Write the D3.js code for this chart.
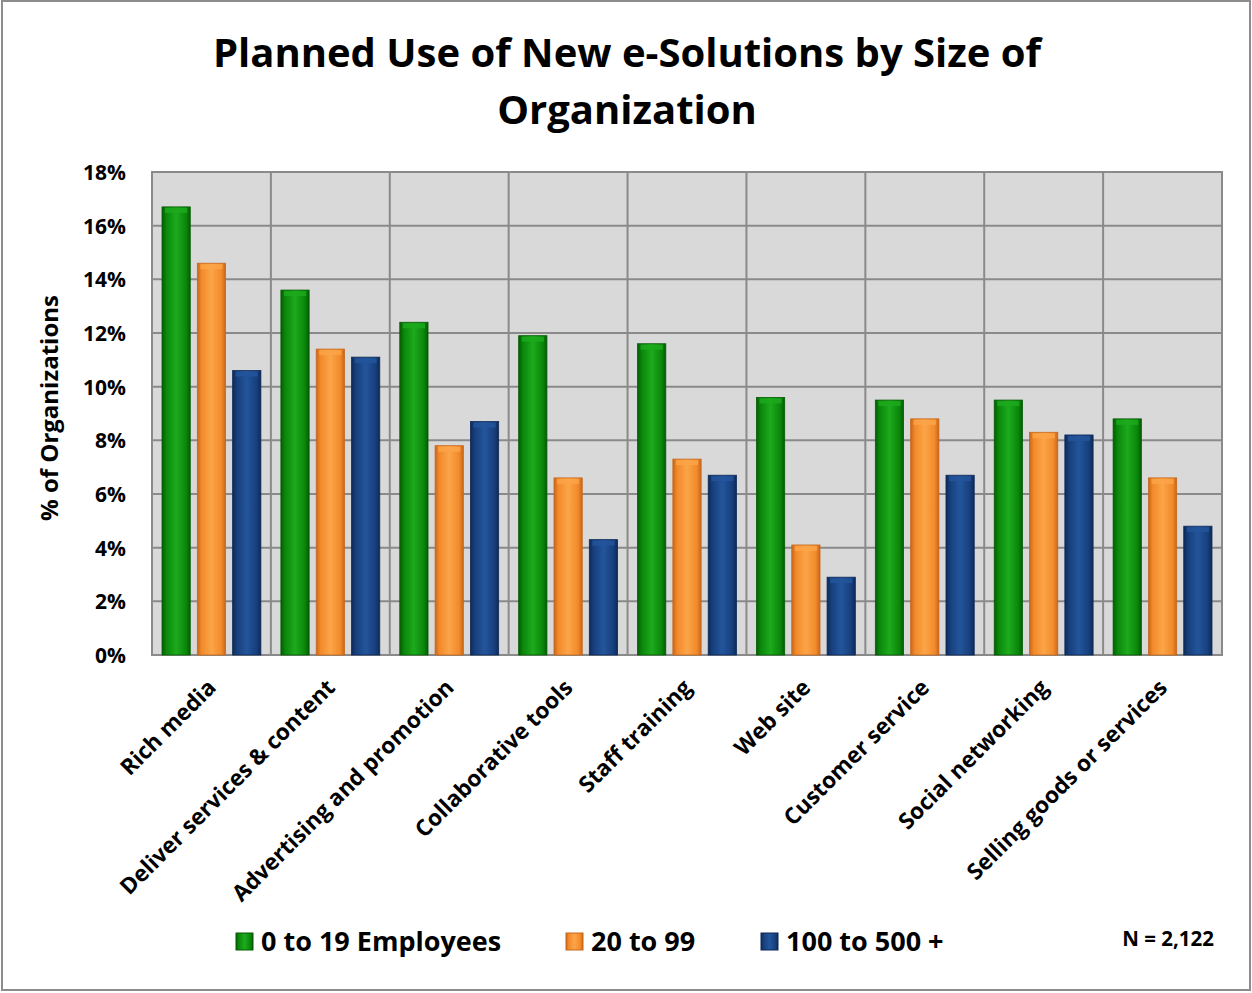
<!DOCTYPE html>
<html>
<head>
<meta charset="utf-8">
<script src="https://cdn.jsdelivr.net/npm/d3@7"></script>
<style>
  body { margin: 0; background: #fff; }
  text { font-family: "Open Sans", Lato, sans-serif; font-weight: bold; fill: #000; }
</style>
</head>
<body>
<section></section>
<script>
const WIDTH = 1252;
const HEIGHT = 993;

// Data
const categories = ["Rich media", "Deliver services & content", "Advertising and promotion",
    "Collaborative tools", "Staff training", "Web site", "Customer service",
    "Social networking", "Selling goods or services"];
const seriesNames = ["0 to 19 Employees", "20 to 99", "100 to 500 +"];
const small = [16.7, 13.6, 12.4, 11.9, 11.6, 9.6, 9.5, 9.5, 8.8];
const medium = [14.6, 11.4, 7.8, 6.6, 7.3, 4.1, 8.8, 8.3, 6.6];
const large = [10.6, 11.1, 8.7, 4.3, 6.7, 2.9, 6.7, 8.2, 4.8];
const yTicks = [0, 2, 4, 6, 8, 10, 12, 14, 16, 18];

const colors = [
    {base: "#0a870a", light: "#1daa1d", dark: "#055c05"},
    {base: "#f28a2a", light: "#fba548", dark: "#c8661a"},
    {base: "#173f7c", light: "#23559c", dark: "#0d2a57"}
];

// plot area
const PL = 152, PR = 1222, PT = 172, PB = 655;

const svg = d3.select("section")
    .append("svg")
    .attr("width", WIDTH)
    .attr("height", HEIGHT);

// outer border
svg.append("rect")
    .attr("x", 2).attr("y", 1)
    .attr("width", 1248).attr("height", 989)
    .attr("fill", "#fff")
    .attr("stroke", "#8c8c8c")
    .attr("stroke-width", 2);

// gradients for the bevelled bars
const defs = svg.append("defs");
colors.forEach((c, i) => {
    const g = defs.append("linearGradient")
        .attr("id", "grad" + i)
        .attr("x1", "0%").attr("x2", "100%").attr("y1", "0%").attr("y2", "0%");
    g.append("stop").attr("offset", "0%").attr("stop-color", c.dark);
    g.append("stop").attr("offset", "15%").attr("stop-color", c.base);
    g.append("stop").attr("offset", "50%").attr("stop-color", c.light);
    g.append("stop").attr("offset", "85%").attr("stop-color", c.base);
    g.append("stop").attr("offset", "100%").attr("stop-color", c.dark);
});

// title
svg.append("text")
    .attr("x", 627).attr("y", 67)
    .attr("text-anchor", "middle")
    .attr("font-size", 40)
    .text("Planned Use of New e-Solutions by Size of");
svg.append("text")
    .attr("x", 627).attr("y", 124)
    .attr("text-anchor", "middle")
    .attr("font-size", 40)
    .text("Organization");

const x0 = d3.scaleBand()
    .domain(categories)
    .range([PL, PR])
    .paddingInner(0)
    .paddingOuter(0);

const x1 = d3.scaleBand()
    .domain(d3.range(3))
    .range([10, x0.bandwidth() - 10])
    .paddingInner(0.2);

const yScale = d3.scaleLinear()
    .domain([0, 18])
    .range([PB, PT]);

// plot background
svg.append("rect")
    .attr("x", PL).attr("y", PT)
    .attr("width", PR - PL).attr("height", PB - PT)
    .attr("fill", "#d9d9d9")
    .attr("stroke", "#8a8a8a")
    .attr("stroke-width", 2);

// horizontal gridlines
svg.append("g")
    .selectAll("line")
    .data(yTicks)
    .enter()
    .append("line")
    .attr("x1", PL).attr("x2", PR)
    .attr("y1", d => yScale(d)).attr("y2", d => yScale(d))
    .attr("stroke", "#8a8a8a")
    .attr("stroke-width", 2);

// vertical gridlines between categories
svg.append("g")
    .selectAll("line")
    .data(categories.slice(1))
    .enter()
    .append("line")
    .attr("x1", d => x0(d)).attr("x2", d => x0(d))
    .attr("y1", PT).attr("y2", PB)
    .attr("stroke", "#8a8a8a")
    .attr("stroke-width", 2);

// y axis
const yAxis = d3.axisLeft(yScale)
    .tickValues(yTicks)
    .tickFormat(d => d + "%")
    .tickSize(0)
    .tickPadding(26);

svg.append("g")
    .attr("id", "y-axis")
    .attr("transform", "translate(" + PL + ",0)")
    .call(yAxis)
    .call(g => g.select(".domain").remove())
    .selectAll("text")
    .attr("font-size", 21)
    .attr("dy", "0.35em")
    .style("font-family", "'Open Sans', sans-serif")
    .style("font-weight", "bold")
    .attr("fill", "#000");

svg.append("text")
    .attr("transform", "translate(58,408) rotate(-90)")
    .attr("text-anchor", "middle")
    .attr("font-size", 24)
    .text("% of Organizations");

// bars
const series = [small, medium, large];
const rows = categories.map((c, i) => ({cat: c, vals: series.map(s => s[i])}));

const groups = svg.append("g")
    .selectAll("g")
    .data(rows)
    .enter()
    .append("g")
    .attr("transform", d => "translate(" + x0(d.cat) + ",0)");

const bars = groups.selectAll("g.bar")
    .data(d => d.vals.map((v, k) => ({v, k})))
    .enter()
    .append("g")
    .attr("class", "bar");

bars.append("rect")
    .attr("x", d => x1(d.k))
    .attr("y", d => yScale(d.v))
    .attr("width", x1.bandwidth())
    .attr("height", d => PB - yScale(d.v))
    .attr("fill", d => "url(#grad" + d.k + ")")
    .attr("stroke", d => colors[d.k].dark)
    .attr("stroke-width", 0.8);

// top bevel highlight
bars.append("rect")
    .attr("x", d => x1(d.k) + 3)
    .attr("y", d => yScale(d.v) + 1)
    .attr("width", x1.bandwidth() - 6)
    .attr("height", 5)
    .attr("fill", d => colors[d.k].light)
    .attr("opacity", 0.8);

// x labels
svg.append("g")
    .selectAll("text")
    .data(categories)
    .enter()
    .append("text")
    .attr("transform", d => "translate(" + (x0(d) + x0.bandwidth() / 2 + 6) + ",689) rotate(-45)")
    .attr("text-anchor", "end")
    .attr("font-size", 22.5)
    .text(d => d);

// legend
const legendX = [236, 566, 761];
const legend = svg.append("g")
    .selectAll("g")
    .data(seriesNames)
    .enter()
    .append("g")
    .attr("transform", (d, i) => "translate(" + legendX[i] + ",933)");

legend.append("rect")
    .attr("width", 17).attr("height", 17)
    .attr("fill", (d, i) => "url(#grad" + i + ")")
    .attr("stroke", (d, i) => colors[i].dark)
    .attr("stroke-width", 1);

legend.append("text")
    .attr("x", 25).attr("y", 18)
    .attr("font-size", 27)
    .text(d => d);

svg.append("text")
    .attr("x", 1214).attr("y", 946)
    .attr("text-anchor", "end")
    .attr("font-size", 20.5)
    .text("N = 2,122");
</script>
</body>
</html>
